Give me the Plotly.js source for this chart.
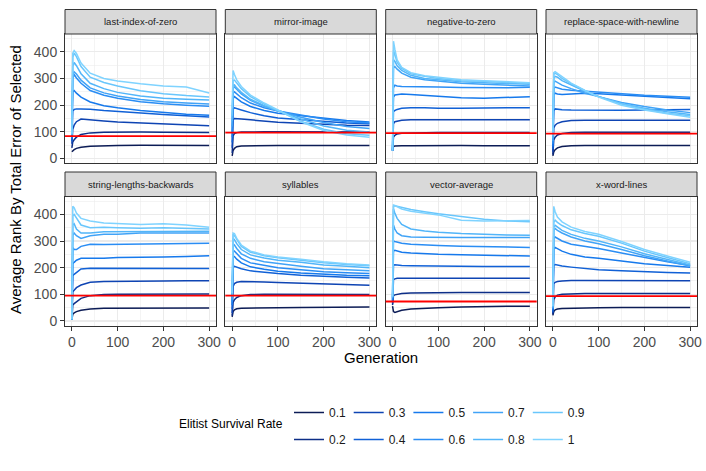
<!DOCTYPE html>
<html>
<head>
<meta charset="utf-8">
<script src="https://cdn.plot.ly/plotly-3.0.1.min.js"></script>
<style>html,body{margin:0;padding:0;background:#fff;}#chart{width:706px;height:471px;}</style>
</head>
<body>
<div id="chart"></div>
<script>
// ---------- data ----------
const generations = [0, 2, 5, 10, 20, 40, 70, 100, 150, 200, 250, 300];
const rates = ['0.1', '0.2', '0.3', '0.4', '0.5', '0.6', '0.7', '0.8', '0.9', '1'];
const problems = ['last-index-of-zero', 'mirror-image', 'negative-to-zero', 'replace-space-with-newline',
                  'string-lengths-backwards', 'syllables', 'vector-average', 'x-word-lines'];
const referenceLine = [84, 97, 95, 93, 95, 95, 73, 93];

const lastIndexOfZero = [
  [25, 30, 33, 38, 42, 46, 48, 49, 50, 50, 50, 49],
  [40, 62, 70, 80, 90, 96, 98, 99, 99, 98, 98, 97],
  [55, 110, 125, 138, 148, 146, 141, 137, 133, 130, 127, 123],
  [65, 178, 184, 186, 186, 185, 180, 176, 170, 165, 160, 156],
  [75, 250, 255, 245, 230, 212, 198, 190, 180, 172, 166, 162],
  [80, 300, 315, 302, 282, 255, 237, 226, 213, 205, 200, 196],
  [85, 310, 325, 317, 294, 265, 246, 234, 221, 213, 208, 204],
  [88, 345, 360, 348, 318, 282, 262, 248, 234, 226, 222, 219],
  [90, 380, 395, 382, 345, 305, 285, 272, 254, 243, 236, 231],
  [93, 395, 405, 394, 358, 320, 300, 291, 280, 272, 268, 246]
];
const mirrorImage = [
  [10, 30, 38, 44, 47, 48, 49, 49, 49, 49, 49, 49],
  [20, 85, 93, 97, 99, 100, 100, 100, 100, 100, 100, 99],
  [40, 145, 150, 150, 148, 145, 140, 136, 132, 128, 125, 124],
  [60, 185, 190, 188, 182, 172, 160, 152, 145, 138, 133, 130],
  [80, 225, 232, 225, 212, 195, 180, 170, 160, 150, 142, 137],
  [100, 245, 250, 242, 228, 208, 190, 178, 162, 148, 138, 133],
  [120, 265, 268, 258, 242, 218, 196, 180, 155, 135, 120, 112],
  [140, 275, 276, 265, 248, 222, 198, 178, 148, 122, 106, 99],
  [160, 292, 294, 282, 262, 232, 204, 180, 140, 110, 93, 87],
  [190, 330, 315, 295, 270, 238, 208, 182, 138, 105, 88, 80]
];
const negativeToZero = [
  [30, 45, 47, 48, 48, 48, 49, 49, 49, 48, 48, 48],
  [30, 80, 87, 92, 95, 96, 97, 97, 97, 97, 97, 97],
  [30, 130, 138, 140, 143, 145, 145, 145, 145, 145, 145, 145],
  [30, 175, 180, 184, 188, 190, 190, 188, 188, 190, 190, 190],
  [30, 230, 238, 240, 242, 240, 236, 232, 228, 226, 228, 232],
  [30, 265, 275, 272, 270, 270, 268, 268, 266, 265, 265, 267],
  [30, 340, 345, 335, 320, 305, 295, 290, 282, 278, 275, 272],
  [30, 370, 365, 348, 330, 312, 300, 295, 288, 284, 280, 278],
  [30, 405, 390, 360, 338, 318, 308, 300, 292, 290, 285, 282],
  [30, 440, 410, 370, 342, 322, 310, 304, 295, 292, 287, 284]
];
const replaceSpaceWithNewline = [
  [10, 25, 33, 40, 45, 48, 49, 49, 49, 49, 49, 49],
  [15, 70, 80, 88, 94, 97, 98, 98, 98, 98, 98, 98],
  [25, 115, 125, 132, 138, 142, 143, 143, 143, 143, 143, 143],
  [35, 180, 186, 185, 183, 182, 181, 181, 181, 182, 183, 184],
  [45, 240, 245, 242, 240, 242, 245, 243, 238, 232, 228, 224],
  [55, 262, 268, 265, 260, 256, 252, 248, 243, 237, 233, 230],
  [65, 285, 290, 285, 275, 262, 245, 232, 210, 195, 182, 172],
  [75, 300, 308, 305, 292, 275, 252, 232, 205, 188, 175, 165],
  [85, 315, 320, 315, 300, 280, 255, 232, 205, 185, 170, 160],
  [93, 322, 326, 320, 305, 283, 255, 230, 200, 182, 168, 155]
];
const stringLengthsBackwards = [
  [6, 25, 30, 35, 40, 45, 48, 48, 50, 50, 50, 49],
  [6, 60, 65, 72, 85, 95, 99, 100, 100, 101, 101, 101],
  [6, 110, 115, 125, 135, 145, 148, 148, 150, 150, 151, 151],
  [6, 170, 175, 182, 195, 198, 198, 198, 198, 198, 197, 197],
  [6, 215, 220, 228, 235, 235, 235, 238, 238, 240, 242, 245],
  [6, 275, 268, 268, 280, 288, 287, 288, 288, 290, 292, 292],
  [6, 320, 330, 320, 310, 320, 325, 325, 330, 330, 330, 330],
  [6, 360, 365, 345, 330, 330, 335, 335, 335, 335, 336, 337],
  [6, 395, 400, 385, 360, 350, 352, 350, 348, 350, 348, 345],
  [6, 430, 425, 405, 385, 375, 368, 365, 362, 365, 360, 352]
];
const syllables = [
  [15, 35, 42, 46, 48, 49, 50, 50, 51, 52, 52, 52],
  [20, 70, 80, 88, 95, 99, 100, 100, 100, 100, 99, 99],
  [30, 130, 140, 145, 148, 148, 146, 144, 141, 138, 136, 134],
  [45, 200, 205, 202, 196, 188, 182, 178, 172, 167, 164, 161],
  [60, 245, 242, 232, 218, 203, 194, 187, 180, 175, 172, 170],
  [70, 265, 262, 252, 235, 218, 208, 200, 192, 185, 181, 178],
  [80, 290, 285, 272, 252, 235, 222, 215, 205, 196, 192, 188],
  [90, 310, 305, 290, 268, 248, 236, 228, 220, 210, 205, 200],
  [100, 325, 320, 305, 280, 258, 245, 237, 228, 218, 212, 207],
  [105, 330, 328, 310, 285, 262, 248, 240, 232, 222, 215, 210]
];
const vectorAverage = [
  [56, 35, 32, 35, 40, 45, 48, 50, 52, 54, 55, 55],
  [60, 95, 98, 100, 103, 105, 106, 107, 107, 107, 107, 107],
  [65, 155, 158, 160, 160, 160, 160, 160, 160, 160, 160, 160],
  [70, 210, 211, 210, 208, 207, 206, 205, 205, 204, 204, 204],
  [75, 262, 265, 262, 258, 255, 252, 250, 248, 246, 245, 244],
  [80, 300, 298, 296, 292, 288, 285, 283, 280, 278, 277, 276],
  [85, 360, 345, 330, 320, 315, 314, 313, 313, 313, 313, 313],
  [88, 420, 405, 385, 362, 345, 338, 333, 328, 325, 323, 322],
  [90, 430, 432, 430, 425, 418, 410, 402, 392, 382, 375, 372],
  [93, 435, 433, 428, 420, 412, 405, 398, 378, 375, 376, 377]
];
const xWordLines = [
  [21, 35, 42, 45, 47, 48, 50, 50, 51, 51, 51, 51],
  [25, 80, 90, 97, 100, 102, 103, 103, 104, 103, 103, 103],
  [30, 140, 145, 148, 150, 152, 152, 152, 151, 151, 151, 151],
  [35, 208, 212, 210, 206, 202, 196, 192, 188, 184, 182, 180],
  [40, 270, 276, 272, 262, 250, 240, 235, 225, 215, 208, 202],
  [45, 310, 315, 310, 300, 288, 280, 272, 255, 238, 222, 208],
  [48, 340, 347, 340, 330, 315, 300, 290, 268, 245, 225, 206],
  [51, 352, 359, 352, 340, 325, 310, 300, 278, 252, 230, 210],
  [54, 370, 378, 370, 358, 342, 328, 318, 292, 262, 238, 215],
  [56, 430, 410, 390, 372, 352, 336, 325, 298, 268, 244, 220]
];
const panelData = [lastIndexOfZero, mirrorImage, negativeToZero, replaceSpaceWithNewline,
                   stringLengthsBackwards, syllables, vectorAverage, xWordLines];

// ---------- styling ----------
const colours = ['#0c1c56', '#0d2e87', '#0e44b3', '#1060d6', '#1679ec',
                 '#2a8df4', '#40a3f7', '#52b5f9', '#69c6fc', '#7fd3ff'];
const FONT = 'Liberation Sans, Arial, Helvetica, sans-serif';
const W = 706, H = 471;
const colLeft = [65, 225.3, 385.7, 546];
const colWidth = 151;
const rowTop = [34, 196.5];
const rowHeight = 129;
const stripH = 24.5;

const traces = [];
const layout = {
  width: W, height: H,
  margin: {l: 0, r: 0, t: 0, b: 0},
  paper_bgcolor: '#ffffff',
  plot_bgcolor: '#ffffff',
  showlegend: true,
  shapes: [],
  annotations: []
};

for (let p = 0; p < 8; p++) {
  const row = Math.floor(p / 4), col = p % 4;
  const idx = p === 0 ? '' : String(p + 1);
  const xName = 'x' + idx, yName = 'y' + idx;
  const x0 = colLeft[col] / W, x1 = (colLeft[col] + colWidth) / W;
  const yTopPx = rowTop[row], yBotPx = rowTop[row] + rowHeight;
  const d0 = (H - yBotPx) / H, d1 = (H - yTopPx) / H;

  layout['xaxis' + idx] = {
    domain: [x0, x1], anchor: yName, range: [-15, 315],
    tick0: 0, dtick: 100, showgrid: true, gridcolor: '#ebebeb', gridwidth: 1.1,
    minor: {dtick: 50, showgrid: true, gridcolor: '#ebebeb', gridwidth: 0.55},
    zeroline: false, showline: true, mirror: true, linecolor: '#333333', linewidth: 1,
    ticks: row === 1 ? 'outside' : '', ticklen: 4, tickcolor: '#333333', tickwidth: 1,
    showticklabels: row === 1,
    tickfont: {family: FONT, size: 14, color: '#4d4d4d'},
    fixedrange: true
  };
  layout['yaxis' + idx] = {
    domain: [d0, d1], anchor: xName, range: [-17, 467],
    tick0: 0, dtick: 100, showgrid: true, gridcolor: '#ebebeb', gridwidth: 1.1,
    minor: {dtick: 50, showgrid: true, gridcolor: '#ebebeb', gridwidth: 0.55},
    zeroline: false, showline: true, mirror: true, linecolor: '#333333', linewidth: 1,
    ticks: col === 0 ? 'outside' : '', ticklen: 4, tickcolor: '#333333', tickwidth: 1,
    showticklabels: col === 0,
    tickfont: {family: FONT, size: 14, color: '#4d4d4d'},
    fixedrange: true
  };

  // series
  panelData[p].forEach((vals, i) => {
    traces.push({
      type: 'scatter', mode: 'lines',
      x: generations, y: vals,
      xaxis: xName, yaxis: yName,
      name: rates[i],
      legendgroup: 'r' + i,
      legend: Math.floor(i / 2) === 0 ? 'legend' : 'legend' + (Math.floor(i / 2) + 1),
      showlegend: p === 0,
      line: {color: colours[i], width: 1.5},
      hoverinfo: 'skip'
    });
  });

  // red reference line
  layout.shapes.push({
    type: 'line', xref: xName + ' domain', yref: yName,
    x0: 0, x1: 1, y0: referenceLine[p], y1: referenceLine[p],
    line: {color: '#ff0000', width: 1.8}, layer: 'above'
  });

  // strip
  const sTop = (H - (yTopPx - stripH)) / H;
  layout.shapes.push({
    type: 'rect', xref: 'paper', yref: 'paper',
    x0: x0, x1: x1, y0: d1, y1: sTop,
    fillcolor: '#d9d9d9', line: {color: '#333333', width: 1}, layer: 'above'
  });
  layout.annotations.push({
    xref: 'paper', yref: 'paper', x: (x0 + x1) / 2, y: (d1 + sTop) / 2,
    xanchor: 'center', yanchor: 'middle', showarrow: false,
    text: problems[p], font: {family: FONT, size: 9.5, color: '#1a1a1a'}
  });
}

// axis titles
layout.annotations.push({
  xref: 'paper', yref: 'paper', x: 15 / W, y: (H - 180) / H,
  xanchor: 'center', yanchor: 'middle', showarrow: false, textangle: -90,
  text: 'Average Rank By Total Error of Selected',
  font: {family: FONT, size: 15, color: '#000000'}
});
layout.annotations.push({
  xref: 'paper', yref: 'paper', x: 381 / W, y: (H - 357) / H,
  xanchor: 'center', yanchor: 'middle', showarrow: false,
  text: 'Generation',
  font: {family: FONT, size: 15, color: '#000000'}
});
// legend title
layout.annotations.push({
  xref: 'paper', yref: 'paper', x: 177 / W, y: (H - 424) / H,
  xanchor: 'left', yanchor: 'middle', showarrow: false,
  text: 'Elitist Survival Rate',
  font: {family: FONT, size: 12, color: '#000000'}
});

// five two-entry legends (column-major like the reference)
for (let k = 0; k < 5; k++) {
  const name = k === 0 ? 'legend' : 'legend' + (k + 1);
  layout[name] = {
    x: (289 + 59.7 * k) / W, xanchor: 'left',
    y: (H - 398) / H, yanchor: 'top',
    orientation: 'v', traceorder: 'grouped', tracegroupgap: 8,
    bgcolor: 'rgba(0,0,0,0)', borderwidth: 0,
    font: {family: FONT, size: 12, color: '#1a1a1a'}
  };
}

Plotly.newPlot('chart', traces, layout, {staticPlot: true, displayModeBar: false});
</script>
</body>
</html>
